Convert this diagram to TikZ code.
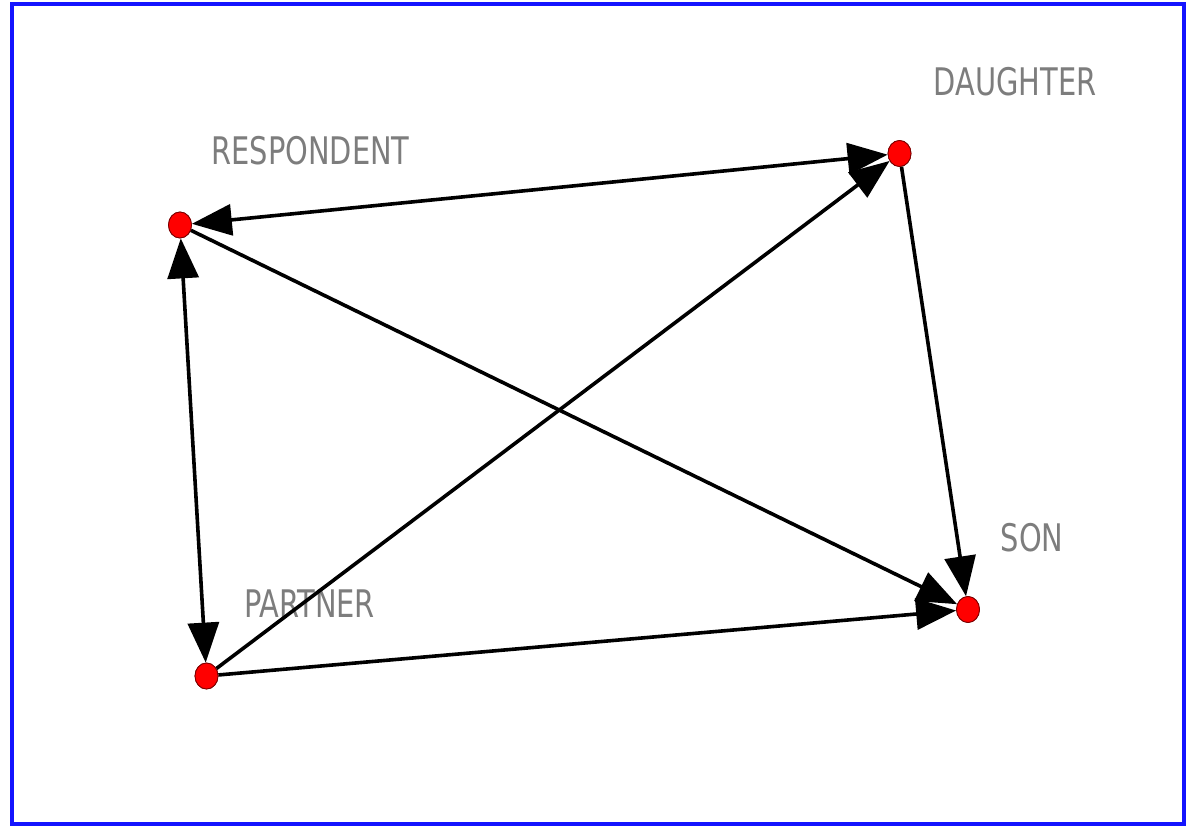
\documentclass[tikz,border=0pt]{standalone}
\usepackage{fontspec}
\setmainfont{DejaVu Sans}
\usetikzlibrary{arrows.meta,shapes.geometric}
\definecolor{framblue}{RGB}{20,20,255}
\definecolor{labgray}{RGB}{125,125,125}
\definecolor{nodered}{RGB}{255,0,0}
\definecolor{noderim}{RGB}{120,0,0}
\tikzset{
  vertex/.style={ellipse,draw=noderim,line width=0.8pt,fill=nodered,minimum width=23pt,minimum height=26pt,inner sep=0pt},
  lab/.style={text=labgray,inner sep=0pt,font=\fontsize{38}{38}\selectfont},
  edge/.style={line width=3.6pt,draw=black},
  tip/.tip={Triangle[length=40pt,width=31pt]}
}
\newcommand{\labtext}[1]{\scalebox{0.76}[1]{#1}}
\begin{document}
\begin{tikzpicture}[x=1pt,y=-1pt]
\useasboundingbox (0,0) rectangle (1192,829);
\fill[white] (0,0) rectangle (1192,829);
\draw[framblue,line width=4pt] (12,4) rectangle (1183.5,823.5);
% vertices
\node[vertex] (r) at (180,225) {};
\node[vertex] (d) at (899.5,153.5) {};
\node[vertex] (p) at (206.5,676) {};
\node[vertex] (s) at (968,609.5) {};
% labels
\node[lab] (lr) at (310.5,151) {\labtext{RESPONDENT}};
\node[lab] (ld) at (1015,81.5) {\labtext{DAUGHTER}};
\node[lab] (lp) at (309.5,604) {\labtext{PARTNER}};
\node[lab] (ls) at (1032,538) {\labtext{SON}};
% edges
\draw[edge,{tip}-{tip}] (r) -- (d);
\draw[edge,{tip}-{tip}] (r) -- (p);
\draw[edge,-{tip}] (r) -- (s);
\draw[edge,-{tip}] (p) -- (d);
\draw[edge,-{tip}] (p) -- (s);
\draw[edge,-{tip}] (d) -- (s);
% redraw vertices on top
\node[vertex] at (r.center) {};
\node[vertex] at (d.center) {};
\node[vertex] at (p.center) {};
\node[vertex] at (s.center) {};
\end{tikzpicture}
\end{document}
